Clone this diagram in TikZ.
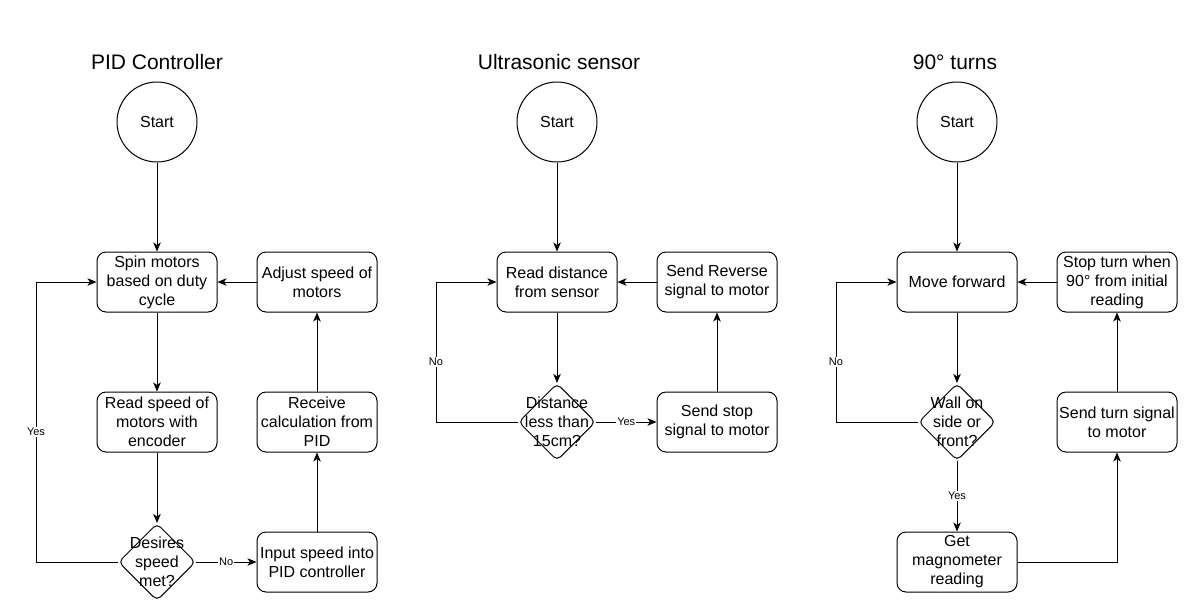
\documentclass[tikz,border=0pt]{standalone}
\usepackage{fontspec}
\setmainfont{Liberation Sans}
\usetikzlibrary{shapes.geometric,arrows.meta}
\begin{document}
\begin{tikzpicture}[x=1pt,y=-1pt,line width=1pt,
  every node/.style={font=\fontsize{16}{19}\selectfont},
  box/.style={draw,rounded corners=9pt,minimum width=120pt,minimum height=60pt,align=center,inner sep=0pt},
  dec/.style={draw,diamond,rounded corners=5pt,minimum width=77pt,minimum height=77pt,inner sep=0pt},
  circ/.style={draw,circle,minimum size=80pt,inner sep=0pt},
  dtext/.style={align=center,inner sep=0pt},
  ttl/.style={font=\fontsize{21}{24}\selectfont},
  lbl/.style={font=\fontsize{11}{13}\selectfont,fill=white,inner sep=1pt},
  arr/.style={-{Stealth[length=9pt,width=7.5pt,inset=2.5pt]}}]
\fill[white] (0,0) rectangle (1204,608);
\useasboundingbox (0,0) rectangle (1204,608);

% ---------- PID Controller ----------
\node[ttl] (title1) at (157,62) {PID Controller};
\node[circ] (s1) at (157,122) {Start};
\node[box] (b1) at (157,282) {Spin motors\\based on duty\\cycle};
\node[box] (b2) at (157,422) {Read speed of\\motors with\\encoder};
\node[dec] (d1) at (157,562) {};
\node[dtext] (d1t) at (d1) {Desires\\speed\\met?};
\node[box] (b3) at (317,282) {Adjust speed of\\motors};
\node[box] (b4) at (317,422) {Receive\\calculation from\\PID};
\node[box] (b5) at (317,562) {Input speed into\\PID controller};

\draw[arr] (s1) -- (b1);
\draw[arr] (b1) -- (b2);
\draw[arr] (b2) -- (d1);
\draw[arr] (d1) -- node[lbl]{No} (b5);
\draw[arr] (b5) -- (b4);
\draw[arr] (b4) -- (b3);
\draw[arr] (b3) -- (b1);
\draw[arr] (d1.west) -- ++(-82,0) |- node[lbl,pos=0.232]{Yes} (b1.west);

% ---------- Ultrasonic sensor ----------
\node[ttl] (title2) at (559,62) {Ultrasonic sensor};
\node[circ] (s2) at (557,122) {Start};
\node[box] (u1) at (557,282) {Read distance\\from sensor};
\node[box] (u2) at (717,282) {Send Reverse\\signal to motor};
\node[dec] (d2) at (557,422) {};
\node[dtext] (d2t) at (d2) {Distance\\less than\\15cm?};
\node[box] (u3) at (717,422) {Send stop\\signal to motor};

\draw[arr] (s2) -- (u1);
\draw[arr] (u1) -- (d2);
\draw[arr] (d2) -- node[lbl]{Yes} (u3);
\draw[arr] (u3) -- (u2);
\draw[arr] (u2) -- (u1);
\draw[arr] (d2.west) -- ++(-82,0) |- node[lbl,pos=0.214]{No} (u1.west);

% ---------- 90 degree turns ----------
\node[ttl] (title3) at (955,62) {90° turns};
\node[circ] (s3) at (957,122) {Start};
\node[box] (t1) at (957,282) {Move forward};
\node[box] (t2) at (1117,282) {Stop turn when\\90° from initial\\reading};
\node[dec] (d3) at (957,422) {};
\node[dtext] (d3t) at (d3) {Wall on\\side or\\front?};
\node[box] (t3) at (1117,422) {Send turn signal\\to motor};
\node[box] (t4) at (957,562) {Get\\magnometer\\reading};

\draw[arr] (s3) -- (t1);
\draw[arr] (t1) -- (d3);
\draw[arr] (d3) -- node[lbl]{Yes} (t4);
\draw[arr] (t4.east) -| (t3.south);
\draw[arr] (t3) -- (t2);
\draw[arr] (t2) -- (t1);
\draw[arr] (d3.west) -- ++(-82,0) |- node[lbl,pos=0.214]{No} (t1.west);
\end{tikzpicture}
\end{document}
